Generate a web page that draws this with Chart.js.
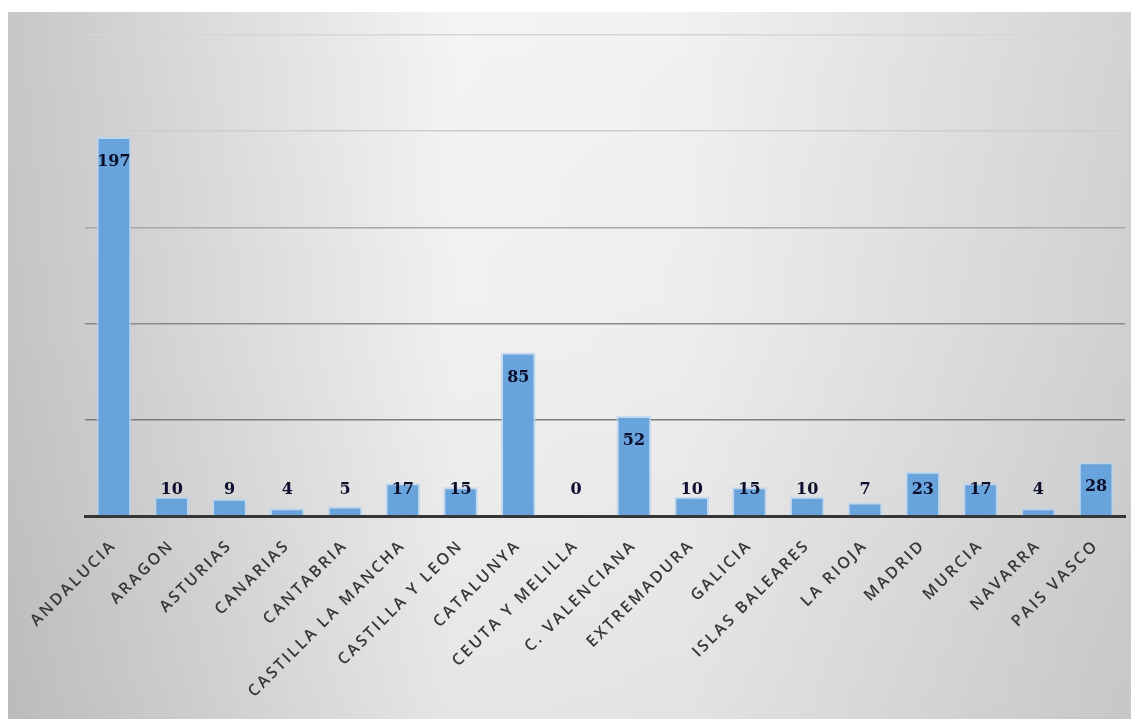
<!DOCTYPE html>
<html>
<head>
<meta charset="utf-8">
<script src="https://cdn.jsdelivr.net/npm/chart.js@4.4.1/dist/chart.umd.min.js"></script>
<style>
  html, body { margin: 0; padding: 0; background: #ffffff; }
  #wrap { position: absolute; left: 8px; top: 12px; width: 1123px; height: 707px; }
</style>
</head>
<body>
<div id="wrap"><canvas id="myChart" width="1123" height="707"></canvas></div>
<script>
// comunidades autonomas y total por comunidad
var regiones = ['ANDALUCIA', 'ARAGON', 'ASTURIAS', 'CANARIAS', 'CANTABRIA', 'CASTILLA LA MANCHA',
  'CASTILLA Y LEON', 'CATALUNYA', 'CEUTA Y MELILLA', 'C. VALENCIANA', 'EXTREMADURA', 'GALICIA',
  'ISLAS BALEARES', 'LA RIOJA', 'MADRID', 'MURCIA', 'NAVARRA', 'PAIS VASCO'];
var totales = [197, 10, 9, 4, 5, 17, 15, 85, 0, 52, 10, 15, 10, 7, 23, 17, 4, 28];
var yMax = 250;
var yStep = 50;

// grid lines get darker towards the base
var gridColors = { 250: '#d6d6d6', 200: '#cdcdcd', 150: '#a8a8a8', 100: '#8a8a8a', 50: '#7c7c7c', 0: 'rgba(0,0,0,0)' };

// grey backdrop plus spaced-out axis lettering
var backdrop = {
  id: 'backdrop',
  beforeUpdate: function(chart) {
    chart.ctx.letterSpacing = '2.5px';
  },
  beforeDraw: function(chart) {
    var ctx = chart.ctx, w = chart.width, h = chart.height;
    ctx.save();
    var g = ctx.createLinearGradient(0, 0, w, 0);
    g.addColorStop(0, '#c7c7c7');
    g.addColorStop(0.4, '#f4f4f4');
    g.addColorStop(0.6, '#f1f1f1');
    g.addColorStop(1, '#d3d3d3');
    ctx.fillStyle = g;
    ctx.fillRect(0, 0, w, h);
    var v = ctx.createLinearGradient(0, 0, 0, h);
    v.addColorStop(0, 'rgba(0,0,0,0)');
    v.addColorStop(0.45, 'rgba(0,0,0,0.015)');
    v.addColorStop(1, 'rgba(0,0,0,0.06)');
    ctx.fillStyle = v;
    ctx.fillRect(0, 0, w, h);
    ctx.restore();
    ctx.letterSpacing = '2.5px';
  }
};

// value labels: inside the top of tall bars, just above the short ones
var valueLabels = {
  id: 'valueLabels',
  afterDatasetsDraw: function(chart) {
    var ctx = chart.ctx;
    var meta = chart.getDatasetMeta(0);
    var base = chart.scales.y.getPixelForValue(0);
    ctx.save();
    ctx.letterSpacing = '0px';
    ctx.font = 'bold 16px "DejaVu Serif"';
    ctx.fillStyle = '#0b0f2c';
    ctx.textAlign = 'center';
    ctx.textBaseline = 'middle';
    meta.data.forEach(function(bar, i) {
      var y = Math.min(bar.y + 25, base - 26);
      ctx.fillText(String(totales[i]), bar.x, y);
    });
    ctx.restore();
  }
};

var ctx = document.getElementById('myChart').getContext('2d');
var myChart = new Chart(ctx, {
  type: 'bar',
  data: {
    labels: regiones,
    datasets: [{
      data: totales,
      backgroundColor: '#68a3db',
      borderColor: 'rgba(185,212,240,0.8)',
      borderWidth: 2,
      borderSkipped: 'bottom',
      barPercentage: 0.6,
      categoryPercentage: 1
    }]
  },
  options: {
    responsive: false,
    animation: false,
    layout: { padding: { left: 77, right: 6, top: 23, bottom: 0 } },
    plugins: {
      legend: { display: false },
      tooltip: { enabled: false }
    },
    scales: {
      x: {
        grid: { display: false, drawTicks: false },
        border: { display: true, color: '#353535', width: 3 },
        ticks: {
          autoSkip: false,
          minRotation: 45,
          maxRotation: 45,
          padding: 20,
          color: '#363636',
          font: { family: '"Open Sans"', size: 16, weight: '600' }
        },
        afterFit: function(scale) { scale.height = 203; }
      },
      y: {
        min: 0,
        max: yMax,
        grid: {
          drawTicks: false,
          lineWidth: 1.5,
          color: function(c) { return gridColors[c.tick.value] || '#aaaaaa'; }
        },
        border: { display: false },
        ticks: { display: false, stepSize: yStep },
        afterFit: function(scale) { scale.width = 0; }
      }
    }
  },
  plugins: [backdrop, valueLabels]
});
</script>
</body>
</html>
